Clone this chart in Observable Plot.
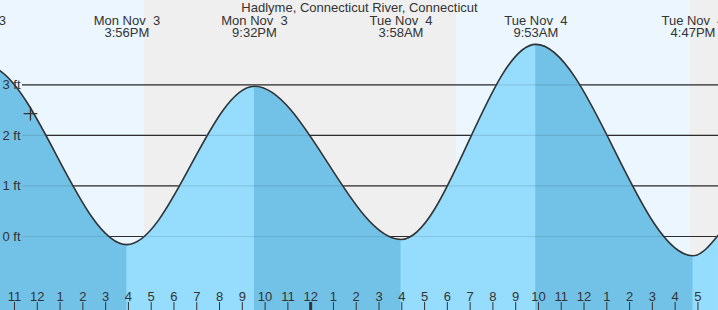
<!DOCTYPE html>
<html><head><meta charset="utf-8">
<script src="https://cdn.jsdelivr.net/npm/d3@7"></script>
<script src="https://cdn.jsdelivr.net/npm/@observablehq/plot@0.6"></script>
<style>html,body{margin:0;padding:0;background:#fff;overflow:hidden}</style>
</head><body><div id="chart"></div>
<script>
const title = "Hadlyme, Connecticut River, Connecticut";

// High / low tides (feet), wall-clock times
const extremeTimes = ["2025-11-03T09:10", "2025-11-03T15:56", "2025-11-03T21:32", "2025-11-04T03:58", "2025-11-04T09:53", "2025-11-04T16:47"];
const extremeFeet = [3.57, -0.16, 2.97, -0.06, 3.80, -0.38];
const extremeKinds = ["high", "low", "high", "low", "high", "low"];
const extremeDateLabels = ["Mon Nov  3", "Mon Nov  3", "Mon Nov  3", "Tue Nov  4", "Tue Nov  4", "Tue Nov  4"];
const extremeTimeLabels = ["9:10AM", "3:56PM", "9:32PM", "3:58AM", "9:53AM", "4:47PM"];

// Heights read at the left and right edges of the chart
const edgeTimes = ["2025-11-03T10:23", "2025-11-04T17:54"];
const edgeFeet = [3.27, 0.03];

// Daylight / night bands
const bandStarts = ["2025-11-03T10:23", "2025-11-03T16:42", "2025-11-04T06:24", "2025-11-04T16:40"];
const bandEnds = ["2025-11-03T16:42", "2025-11-04T06:24", "2025-11-04T16:40", "2025-11-04T17:55"];
const bandKinds = ["day", "night", "day", "night"];

// Hour tick labels along the bottom, 11 AM Mon to 5 PM Tue
const hourLabels = ["11","12","1","2","3","4","5","6","7","8","9","10","11","12","1","2","3","4","5","6","7","8","9","10","11","12","1","2","3","4","5"];
const firstHour = "2025-11-03T11:00";

const gridFeet = [0, 1, 2, 3];
const nowTime = "2025-11-03T11:42";
const nowFeet = 2.43;

const xDomain = ["2025-11-03T10:23:06", "2025-11-04T17:54:10"];
const yDomain = [-1.4634, 4.667];

// ---- build tables ----
const T = s => new Date(s + (s.length === 16 ? ":00Z" : "Z"));
const extremes = extremeTimes.map((t, i) => ({t: T(t), v: extremeFeet[i], kind: extremeKinds[i], date: extremeDateLabels[i], time: extremeTimeLabels[i]}));
const tide = extremes.map(d => ({t: d.t, v: d.v}))
  .concat(edgeTimes.map((t, i) => ({t: T(t), v: edgeFeet[i]})))
  .sort((a, b) => a.t - b.t);
const bands = bandStarts.map((s, i) => ({x1: T(s), x2: T(bandEnds[i]), kind: bandKinds[i]}));
const fallPeriods = [];
for (let i = 0; i < extremes.length; i++) {
  if (extremes[i].kind === "high") fallPeriods.push([extremes[i].t, i + 1 < extremes.length ? extremes[i + 1].t : T(xDomain[1])]);
}
const hourTimes = hourLabels.map((lab, i) => ({t: new Date(T(firstHour).getTime() + i * 3600e3), label: lab}));
hourTimes.forEach(d => d.midnight = d.t.getUTCHours() === 0);

const yBase = yDomain[0];
const font = "'Liberation Sans', Arial, sans-serif";

function clipToFalls(index, scales, values, dimensions, context, next) {
  const g = next(index, scales, values, dimensions, context);
  const ns = "http://www.w3.org/2000/svg";
  const wrap = document.createElementNS(ns, "g");
  const cp = document.createElementNS(ns, "clipPath");
  cp.setAttribute("id", "falling-clip");
  for (const [a, b] of fallPeriods) {
    const r = document.createElementNS(ns, "rect");
    const xa = scales.x(a), xb = scales.x(b);
    r.setAttribute("x", xa);
    r.setAttribute("width", Math.max(0, xb - xa));
    r.setAttribute("y", 0);
    r.setAttribute("height", dimensions.height);
    cp.appendChild(r);
  }
  wrap.appendChild(cp);
  g.setAttribute("clip-path", "url(#falling-clip)");
  wrap.appendChild(g);
  return wrap;
}

const chart = Plot.plot({
  width: 718,
  height: 310,
  margin: 0,
  style: {fontFamily: font, fontSize: "13px", background: "#fff", overflow: "hidden"},
  x: {type: "utc", domain: xDomain.map(T), axis: null},
  y: {domain: yDomain, axis: null},
  marks: [
    Plot.rect(bands, {x1: "x1", x2: "x2", fill: d => d.kind === "day" ? "#ebf6ff" : "#efefef"}),
    Plot.ruleY(gridFeet, {insetLeft: 22, stroke: "#333", strokeWidth: 1.2}),
    Plot.areaY(tide, {x: "t", y1: yBase, y2: "v", curve: "monotone-x", fill: "#95dcfd"}),
    Plot.areaY(tide, {x: "t", y1: yBase, y2: "v", curve: "monotone-x", fill: "#72c1e6", render: clipToFalls}),
    Plot.ruleY(gridFeet, {insetLeft: 22, stroke: "#000", strokeOpacity: 0.1, strokeWidth: 1.2}),
    Plot.lineY(tide, {x: "t", y: "v", curve: "monotone-x", stroke: "#333", strokeWidth: 1.6}),
    Plot.dot([{t: T(nowTime), v: nowFeet}], {x: "t", y: "v", symbol: "plus", r: 4.5, stroke: "#333", strokeWidth: 1.3}),
    Plot.text(gridFeet, {y: d => d, text: d => `${d} ft`, frameAnchor: "left", textAnchor: "start", lineAnchor: "middle", dx: 2, fill: "#333", fontSize: 13}),
    Plot.text([title], {frameAnchor: "top", text: d => d, lineAnchor: "bottom", dy: 11, fill: "#333", fontSize: 13}),
    Plot.text(extremes, {x: "t", frameAnchor: "top", text: "date", lineAnchor: "bottom", dy: 24, fill: "#333", fontSize: 13}),
    Plot.text(extremes, {x: "t", frameAnchor: "top", text: "time", lineAnchor: "bottom", dy: 36, fill: "#333", fontSize: 13}),
    Plot.ruleX(hourTimes, {x: "t", insetTop: 302, stroke: "#333", strokeWidth: d => d.midnight ? 3 : 1}),
    Plot.text(hourTimes, {x: "t", frameAnchor: "bottom", text: "label", lineAnchor: "bottom", dy: -10, fill: "#333", fontSize: 13})
  ]
});
document.getElementById("chart").appendChild(chart);
</script>
</body></html>
